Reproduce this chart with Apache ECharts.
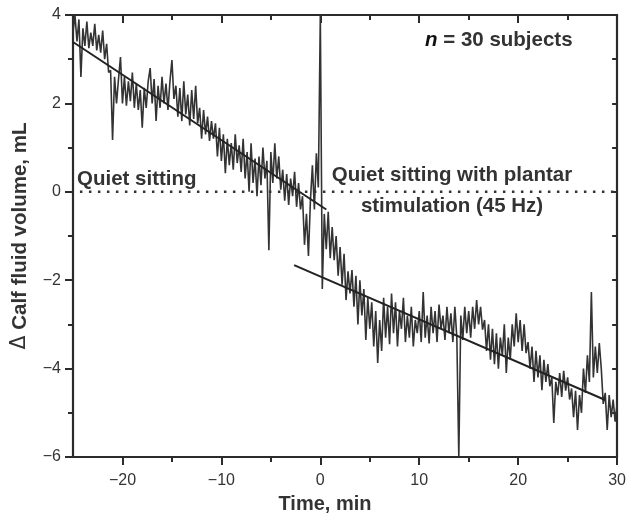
<!DOCTYPE html>
<html>
<head>
<meta charset="utf-8">
<script src="https://cdn.jsdelivr.net/npm/echarts@6/dist/echarts.min.js"></script>
<style>
  html, body { margin: 0; padding: 0; background: #fff; }
  #chart { width: 629px; height: 516px; }
</style>
</head>
<body>
<div id="chart"></div>
<script>
var t0 = -25;
var dt = 0.2;
var volume = [
  // -25 .. -20.2
  3.6, 4.0, 3.4, 3.9, 2.6, 3.7, 3.3, 3.85, 3.25, 3.6, 3.3, 3.8, 3.2, 3.55, 3.15, 3.65, 3.0, 3.35, 2.7, 2.75, 1.17, 2.6, 2.0, 2.55, 3.05,
  // -20 .. -15.2
  2.0, 2.6, 1.95, 2.5, 2.05, 2.7, 1.9, 2.45, 1.85, 2.3, 1.45, 2.35, 1.9, 2.5, 2.8, 2.0, 2.55, 1.6, 2.4, 1.9, 2.6, 2.0, 2.45, 1.85, 2.5,
  // -15 .. -10.2
  2.98, 2.1, 2.4, 1.7, 2.35, 1.6, 2.5, 1.75, 2.2, 1.5, 2.3, 1.65, 2.4, 1.55, 1.9, 1.2, 1.85, 1.3, 1.7, 1.15, 1.6, 1.2, 1.55, 0.8, 1.45,
  // -10 .. -5.2
  0.7, 1.3, 0.42, 1.2, 0.6, 1.1, 0.5, 1.3, 0.65, 1.05, 0.45, 1.2, 0.3, 0.9, 0.0, 1.1, 0.2, 0.75, -0.1, 0.8, 0.15, 1.0, 0.3, 0.7, -1.32,
  // -5 .. -0.2
  0.9, 0.2, 1.1, 0.3, 0.8, 0.05, 0.5, -0.2, 0.4, -0.3, 0.3, -0.1, 0.45, -0.34, 0.2, -0.4, -0.1, -1.2, -0.5, -1.45, -0.2, 0.6, -0.4, 0.87, 0.1,
  // 0 .. 4.8
  4.0, -2.2, -0.5, -1.3, -0.45, -1.5, -0.8, -1.55, -1.0, -1.9, -1.25, -2.1, -1.4, -2.45, -1.8, -2.3, -1.77, -2.6, -1.9, -3.0, -2.0, -2.8, -2.2, -3.35, -2.4,
  // 5 .. 9.8
  -3.1, -2.5, -3.5, -2.7, -3.87, -2.9, -3.6, -2.4, -3.3, -2.6, -3.45, -2.3, -3.2, -2.5, -3.5, -2.7, -3.1, -2.4, -3.4, -2.8, -3.3, -2.6, -3.5, -2.9, -3.2,
  // 10 .. 14.8
  -2.7, -3.4, -2.27, -3.3, -2.8, -3.43, -2.6, -3.2, -2.7, -3.4, -2.55, -3.1, -2.8, -3.35, -2.6, -3.2, -2.75, -3.4, -2.6, -3.3, -6.0, -2.8, -3.35, -2.6, -3.2,
  // 15 .. 19.8
  -2.7, -3.3, -2.6, -3.1, -2.45, -3.0, -2.6, -3.12, -2.9, -3.6, -3.0, -3.8, -3.1, -3.9, -3.2, -4.0, -3.3, -3.7, -3.0, -4.1, -3.3, -3.8, -3.0, -3.5, -2.75,
  // 20 .. 24.8
  -3.4, -2.9, -3.6, -3.0, -3.65, -3.4, -4.0, -3.5, -4.3, -3.6, -4.2, -3.7, -4.49, -3.8, -4.3, -3.9, -4.4, -4.2, -5.23, -4.3, -4.6, -4.1, -4.64, -4.05, -4.5,
  // 25 .. 30
  -4.2, -4.7, -4.45, -5.1, -4.5, -5.39, -4.6, -5.0, -4.0, -4.55, -3.7, -4.3, -2.27, -4.2, -3.5, -4.1, -3.42, -4.0, -4.8, -4.55, -5.39, -4.6, -5.1, -4.7, -5.2, -4.8
];

// linear fits drawn over the trace
var fitBefore = [[-25, 3.39], [0.6, -0.40]];
var fitDuring = [[-2.65, -1.66], [28.8, -4.71]];
var zeroLine = [[-24.3, 0], [30, 0]];

var xMajor = [-20, -10, 0, 10, 20, 30];
var xMinor = [-15, -5, 5, 15, 25];
var yMajor = [-6, -4, -2, 0, 2, 4];
var yMinor = [-5, -3, -1, 1, 3];
var yAll = [-5, -4, -3, -2, -1, 0, 1, 2, 3];

var trace = volume.map(function (v, i) {
  return [+(t0 + i * dt).toFixed(2), v];
});

function minus(v) {
  return v < 0 ? '\u2212' + Math.abs(v) : String(v);
}

var ink = '#333';
var lineCol = '#2b2b2b';

function xAx(pos, ticks, len, inside, labels, showLine) {
  return {
    type: 'value', position: pos, min: -25, max: 30,
    axisLine: { show: showLine, onZero: false, lineStyle: { color: lineCol, width: 2.2 } },
    axisTick: { show: true, customValues: ticks, length: len, inside: inside,
                lineStyle: { color: lineCol, width: 2 } },
    axisLabel: labels ? {
      show: true, customValues: labels, formatter: minus, margin: 16,
      color: ink, fontSize: 16, fontFamily: 'Liberation Sans, Arial, sans-serif'
    } : { show: false },
    splitLine: { show: false }
  };
}

function yAx(pos, ticks, len, inside, labels, showLine) {
  return {
    type: 'value', position: pos, min: -6, max: 4,
    axisLine: { show: showLine, onZero: false, lineStyle: { color: lineCol, width: 2.2 } },
    axisTick: { show: true, customValues: ticks, length: len, inside: inside,
                lineStyle: { color: lineCol, width: 2 } },
    axisLabel: labels ? {
      show: true, customValues: labels, formatter: minus, margin: 12,
      color: ink, fontSize: 16, fontFamily: 'Liberation Sans, Arial, sans-serif'
    } : { show: false },
    splitLine: { show: false }
  };
}

var chart = echarts.init(document.getElementById('chart'));

var option = {
  animation: false,
  backgroundColor: '#fff',
  grid: { left: 73, right: 5.5, top: 15, bottom: 59, containLabel: false },
  xAxis: [
    xAx('bottom', xMajor, 8, false, xMajor, true),
    xAx('bottom', xMinor, 5, false, null, false),
    xAx('top', xMajor.slice(0, 5), 8, true, null, true),
    xAx('top', xMinor, 5, true, null, false)
  ],
  yAxis: [
    yAx('left', yMajor, 8, false, yMajor, true),
    yAx('left', yMinor, 5, false, null, false),
    yAx('right', yAll, 5, true, null, true)
  ],
  series: [
    {
      type: 'line', data: trace, showSymbol: false, symbol: 'none',
      lineStyle: { color: '#333', width: 1.6 }, z: 2
    },
    {
      type: 'line', data: fitBefore, showSymbol: false, symbol: 'none',
      lineStyle: { color: '#222', width: 2 }, z: 3
    },
    {
      type: 'line', data: fitDuring, showSymbol: false, symbol: 'none',
      lineStyle: { color: '#222', width: 2 }, z: 3
    },
    {
      type: 'line', data: zeroLine, showSymbol: false, symbol: 'none',
      lineStyle: { color: '#333', width: 2.5, type: [2.5, 6.5] }, z: 4
    }
  ],
  graphic: [
    {
      type: 'text', left: 425, top: 30,
      style: {
        text: '{i|n} = 30 subjects', fill: ink,
        fontSize: 20.5, fontWeight: 'bold', fontFamily: 'Liberation Sans, Arial, sans-serif',
        rich: { i: { fontStyle: 'italic', fontWeight: 'bold', fontSize: 20.5, fill: '#111',
                     fontFamily: 'Liberation Sans, Arial, sans-serif' } }
      }
    },
    {
      type: 'text', x: 77, y: 179,
      style: {
        text: 'Quiet sitting', fill: ink, verticalAlign: 'middle',
        fontSize: 20.5, fontWeight: 'bold', fontFamily: 'Liberation Sans, Arial, sans-serif'
      }
    },
    {
      type: 'text', x: 452, y: 175,
      style: {
        text: 'Quiet sitting with plantar', fill: ink, align: 'center', verticalAlign: 'middle',
        fontSize: 20.5, fontWeight: 'bold', fontFamily: 'Liberation Sans, Arial, sans-serif'
      }
    },
    {
      type: 'text', x: 452, y: 206,
      style: {
        text: 'stimulation (45 Hz)', fill: ink, align: 'center', verticalAlign: 'middle',
        fontSize: 20.5, fontWeight: 'bold', fontFamily: 'Liberation Sans, Arial, sans-serif'
      }
    },
    {
      type: 'text', x: 325, y: 504,
      style: {
        text: 'Time, min', fill: ink, align: 'center', verticalAlign: 'middle',
        fontSize: 20, fontWeight: 'bold', fontFamily: 'Liberation Sans, Arial, sans-serif'
      }
    },
    {
      type: 'text', x: 20, y: 236, rotation: Math.PI / 2,
      style: {
        text: '{d|\u0394} Calf fluid volume, mL', fill: ink, align: 'center', verticalAlign: 'middle',
        fontSize: 20.5, fontWeight: 'bold', fontFamily: 'Liberation Sans, Arial, sans-serif',
        rich: { d: { fontWeight: 'normal', fontSize: 20.5, fill: ink,
                     fontFamily: 'DejaVu Sans, sans-serif' } }
      }
    }
  ]
};

chart.setOption(option);
</script>
</body>
</html>
